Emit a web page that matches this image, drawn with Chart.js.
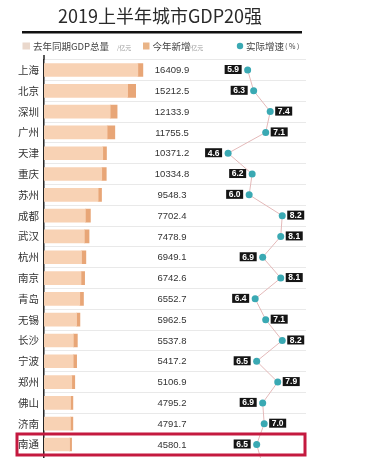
<!DOCTYPE html>
<html lang="zh">
<head>
<meta charset="UTF-8">
<title>2019上半年城市GDP20强</title>
<script src="https://cdn.jsdelivr.net/npm/chart.js"></script>
<style>
  html, body { margin: 0; padding: 0; overflow: hidden; background: #fff; }
  canvas { display: block; }
</style>
</head>
<body>
<canvas id="gdpChart" width="370" height="487"></canvas>
<script>
// ranking order, top to bottom
const cities = ['上海', '北京', '深圳', '广州', '天津', '重庆', '苏州', '成都', '武汉', '杭州',
                '南京', '青岛', '无锡', '长沙', '宁波', '郑州', '佛山', '济南', '南通', '泉州'];
// 2019 H1 GDP (亿元), printed next to the bars
const totals = [16409.9, 15212.5, 12133.9, 11755.5, 10371.2, 10334.8, 9548.3, 7702.4, 7478.9, 6949.1,
                6742.6, 6552.7, 5962.5, 5537.8, 5417.2, 5106.9, 4795.2, 4791.7, 4580.1, 4370.0];
// same period last year (亿元)
const lastYear = [15578, 13880, 10985, 10480, 9750, 9585, 8985, 6870, 6700, 6234,
                  6143, 5938, 5413, 4873, 4852, 4607, 4410, 4392, 4247, 4070];
// this year's increase (亿元), the darker bar ends
const increase = [832, 1332, 1149, 1275, 621, 750, 563, 832, 779, 715,
                  600, 615, 550, 665, 565, 500, 385, 400, 333, 300];
// real growth rate (%)
const growth = [5.9, 6.3, 7.4, 7.1, 4.6, 6.2, 6.0, 8.2, 8.1, 6.9,
                8.1, 6.4, 7.1, 8.2, 6.5, 7.9, 6.9, 7.0, 6.5, 6.9];
const highlightIndex = 18;

const CJK = '"Noto Sans CJK SC", "Noto Sans", sans-serif';
const NUM = '"Liberation Sans", Arial, sans-serif';
const TEAL = '#3aa9b3';

// title, rule and legend at the top
const header = {
    id: 'header',
    afterDraw(chart) {
        const c = chart.ctx;
        c.save();
        c.fillStyle = '#2a2a2a';
        c.font = '18px ' + CJK;
        c.textAlign = 'center';
        c.textBaseline = 'middle';
        c.fillText('2019上半年城市GDP20强', 160, 16);
        c.fillStyle = '#111';
        c.fillRect(22, 31, 280, 2.5);

        c.textAlign = 'left';
        c.fillStyle = '#ead8cc';
        c.fillRect(22.5, 42.5, 7.5, 7);
        c.fillStyle = '#444';
        c.font = '9.5px ' + CJK;
        c.fillText('去年同期GDP总量', 33, 46.5);
        c.fillStyle = '#999';
        c.font = '6px ' + CJK;
        c.fillText('/亿元', 117, 47.5);

        c.fillStyle = '#e9b487';
        c.fillRect(143, 42.5, 6.5, 7);
        c.fillStyle = '#444';
        c.font = '9.5px ' + CJK;
        c.fillText('今年新增', 152.5, 46.5);
        c.fillStyle = '#999';
        c.font = '6px ' + CJK;
        c.fillText('/亿元', 189, 47.5);

        c.fillStyle = TEAL;
        c.beginPath();
        c.arc(240, 46, 3.2, 0, Math.PI * 2);
        c.fill();
        c.fillStyle = '#444';
        c.font = '9.5px ' + CJK;
        c.fillText('实际增速', 246, 46.5);
        c.font = '7px ' + CJK;
        c.fillText('( % )', 285, 46.5);

        // axis line runs a bit above the first row
        c.strokeStyle = '#222';
        c.lineWidth = 1.5;
        c.beginPath();
        c.moveTo(chart.chartArea.left, 55);
        c.lineTo(chart.chartArea.left, chart.chartArea.top);
        c.stroke();
        c.restore();
    }
};

// GDP values in the middle column, growth tags next to the points, highlight box
const annotations = {
    id: 'annotations',
    afterDatasetsDraw(chart) {
        const c = chart.ctx;
        const y = chart.scales.y;
        const pts = chart.getDatasetMeta(2).data;
        c.save();
        c.textBaseline = 'middle';
        c.textAlign = 'center';
        c.fillStyle = '#333';
        c.font = '9.5px ' + NUM;
        totals.forEach((v, i) => {
            c.fillText(v.toFixed(1), 172, y.getPixelForValue(i) + 0.5);
        });

        c.font = 'bold 8.5px ' + NUM;
        growth.forEach((v, i) => {
            const p = pts[i];
            const w = 17, h = 9;
            const bx = v >= 7 ? p.x + 5 : p.x - 6 - w;
            const by = p.y - h / 2 - 0.5;
            c.fillStyle = '#151515';
            c.fillRect(bx, by, w, h);
            c.fillStyle = '#fff';
            c.fillText(v.toFixed(1), bx + w / 2, by + h / 2 + 0.5);
        });

        const yc = y.getPixelForValue(highlightIndex);
        c.strokeStyle = '#c4193f';
        c.lineWidth = 3;
        c.strokeRect(17, yc - 10.5, 288, 21);
        c.restore();
    }
};

const ctx = document.getElementById('gdpChart').getContext('2d');
new Chart(ctx, {
    type: 'bar',
    data: {
        labels: cities,
        datasets: [{
            label: '去年同期GDP总量',
            data: lastYear,
            backgroundColor: '#f8d2b4',
            xAxisID: 'x',
            barThickness: 13,
            order: 2
        }, {
            label: '今年新增',
            data: increase,
            backgroundColor: '#e8a677',
            xAxisID: 'x',
            barThickness: 13,
            order: 2
        }, {
            type: 'line',
            label: '实际增速',
            data: growth,
            xAxisID: 'x2',
            borderColor: '#e4b9b9',
            borderWidth: 1,
            pointRadius: 3.5,
            pointBackgroundColor: TEAL,
            pointBorderColor: TEAL,
            pointBorderWidth: 0,
            order: 1
        }]
    },
    options: {
        indexAxis: 'y',
        responsive: false,
        animation: false,
        devicePixelRatio: 1,
        layout: { padding: { left: 0, right: 64, top: 59.6, bottom: 0 } },
        plugins: {
            legend: { display: false },
            tooltip: { enabled: false }
        },
        scales: {
            x: { display: false, stacked: true, min: 0, max: 43480 },
            x2: { type: 'linear', display: false, min: -7.64, max: 9.78 },
            y: {
                stacked: true,
                grid: { offset: true, color: '#e9e9e9', drawTicks: false },
                border: { color: '#222', width: 1.5 },
                ticks: { color: '#333', padding: 5, font: { family: CJK, size: 10.5 } },
                afterFit(s) { s.width = 44; }
            }
        }
    },
    plugins: [header, annotations]
});
</script>
</body>
</html>
